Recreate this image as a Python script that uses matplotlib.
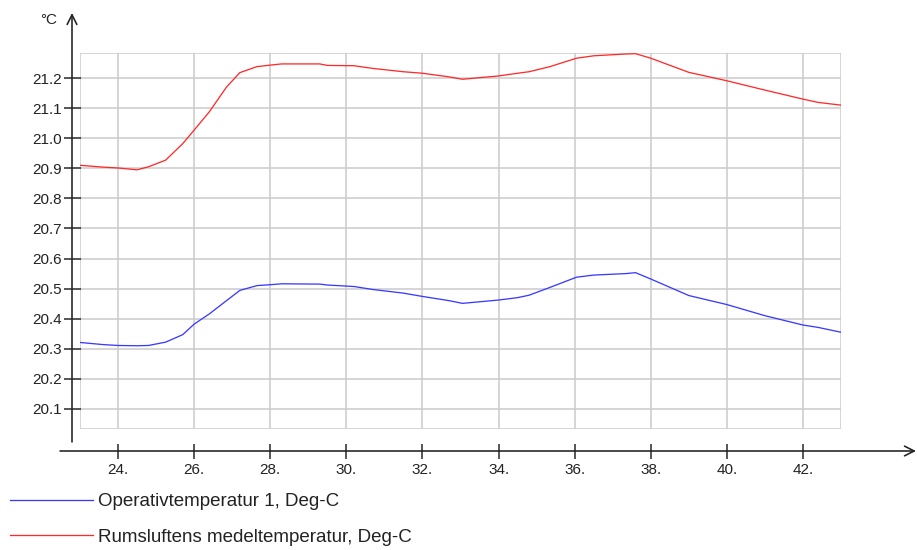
import matplotlib
matplotlib.use("Agg")
import matplotlib.pyplot as plt
from matplotlib.ticker import FixedLocator, FormatStrFormatter
from matplotlib.patches import Rectangle

# timestamps (hours) and the two temperature series
hours = [23.0, 23.6, 24.0, 24.5, 24.8, 25.25, 25.7, 26.0, 26.4, 26.85, 27.2, 27.65,
         28.0, 28.3, 29.3, 29.5, 30.2, 30.7, 31.5, 32.0, 32.7, 33.05, 34.0, 34.5,
         34.8, 35.35, 36.05, 36.5, 37.35, 37.6, 38.0, 39.0, 40.0, 41.0, 42.0, 42.4, 43.0]

operativ = [20.321, 20.314, 20.311, 20.310, 20.311, 20.322, 20.347, 20.382, 20.416,
            20.460, 20.494, 20.510, 20.513, 20.516, 20.515, 20.512, 20.507, 20.497,
            20.485, 20.474, 20.460, 20.451, 20.462, 20.470, 20.478, 20.504, 20.538,
            20.545, 20.550, 20.553, 20.532, 20.477, 20.447, 20.410, 20.379, 20.371, 20.355]

rumsluft = [20.910, 20.904, 20.901, 20.895, 20.905, 20.927, 20.982, 21.027, 21.088,
            21.170, 21.218, 21.238, 21.243, 21.247, 21.247, 21.242, 21.241, 21.232,
            21.221, 21.216, 21.204, 21.196, 21.207, 21.216, 21.221, 21.238, 21.266,
            21.274, 21.280, 21.281, 21.266, 21.219, 21.191, 21.160, 21.130, 21.119, 21.110]

x_ticks = [24, 26, 28, 30, 32, 34, 36, 38, 40, 42]
y_ticks = [20.1, 20.2, 20.3, 20.4, 20.5, 20.6, 20.7, 20.8, 20.9, 21.0, 21.1, 21.2]

labels = ["Operativtemperatur 1, Deg-C", "Rumsluftens medeltemperatur, Deg-C"]

plt.rcParams['font.family'] = ['Liberation Sans', 'DejaVu Sans']

W, H = 917, 550
PT = 0.72  # points per pixel at dpi 100
txt = '#222222'

fig = plt.figure(figsize=(W / 100, H / 100), dpi=100)
ax = fig.add_axes([80 / W, 1 - 429 / H, 761 / W, 376 / H])

ax.set_xlim(23, 43)
ax.set_ylim(20.0333, 21.2833)

# light grey grid and frame
ax.xaxis.set_major_locator(FixedLocator(x_ticks))
ax.yaxis.set_major_locator(FixedLocator(y_ticks))
ax.grid(True, color='#cccccc', linewidth=1.6 * PT)
ax.set_axisbelow(True)
ax.add_patch(Rectangle((0, 0), 1, 1, transform=ax.transAxes, fill=False,
                       edgecolor='#cccccc', linewidth=1.6 * PT, zorder=0.5))

l1, = ax.plot(hours, operativ, color='#3a3aff', linewidth=1.3 * PT)
l2, = ax.plot(hours, rumsluft, color='#ff2a2a', linewidth=1.3 * PT)

# detached black axes with arrow heads
for s in ax.spines.values():
    s.set_visible(False)
ax.spines['left'].set_position(('outward', 8 * PT))
ax.spines['bottom'].set_position(('outward', 22 * PT))

ax.xaxis.set_major_formatter(FormatStrFormatter('%d.'))
ax.yaxis.set_major_formatter(FormatStrFormatter('%.1f'))
ax.tick_params(axis='y', direction='inout', length=17 * PT, width=1.5 * PT,
               color=txt, pad=1, labelsize=11, labelcolor=txt)
ax.tick_params(axis='x', direction='inout', length=15 * PT, width=1.5 * PT,
               color=txt, pad=3, labelsize=11, labelcolor=txt)

arrow = dict(arrowstyle='->,head_length=0.7,head_width=0.35', color=txt,
             linewidth=1.6 * PT, shrinkA=0, shrinkB=0)
ax.annotate('', xy=(72, H - 13), xycoords='figure pixels',
            xytext=(72, H - 442), textcoords='figure pixels', arrowprops=arrow)
ax.annotate('', xy=(916, H - 451), xycoords='figure pixels',
            xytext=(60, H - 451), textcoords='figure pixels', arrowprops=arrow)

fig.text(40 / W, 1 - 20 / H, '°C', fontsize=11, color=txt, ha='left', va='center')

fig.legend([l1, l2], labels, loc='upper left',
           bbox_to_anchor=(10 / W, 1 - 493 / H), frameon=False, fontsize=13.5,
           handlelength=4.4, handletextpad=0.3, labelspacing=1.0,
           borderpad=0, borderaxespad=0, labelcolor=txt)

fig.savefig('out.png', dpi=100)
